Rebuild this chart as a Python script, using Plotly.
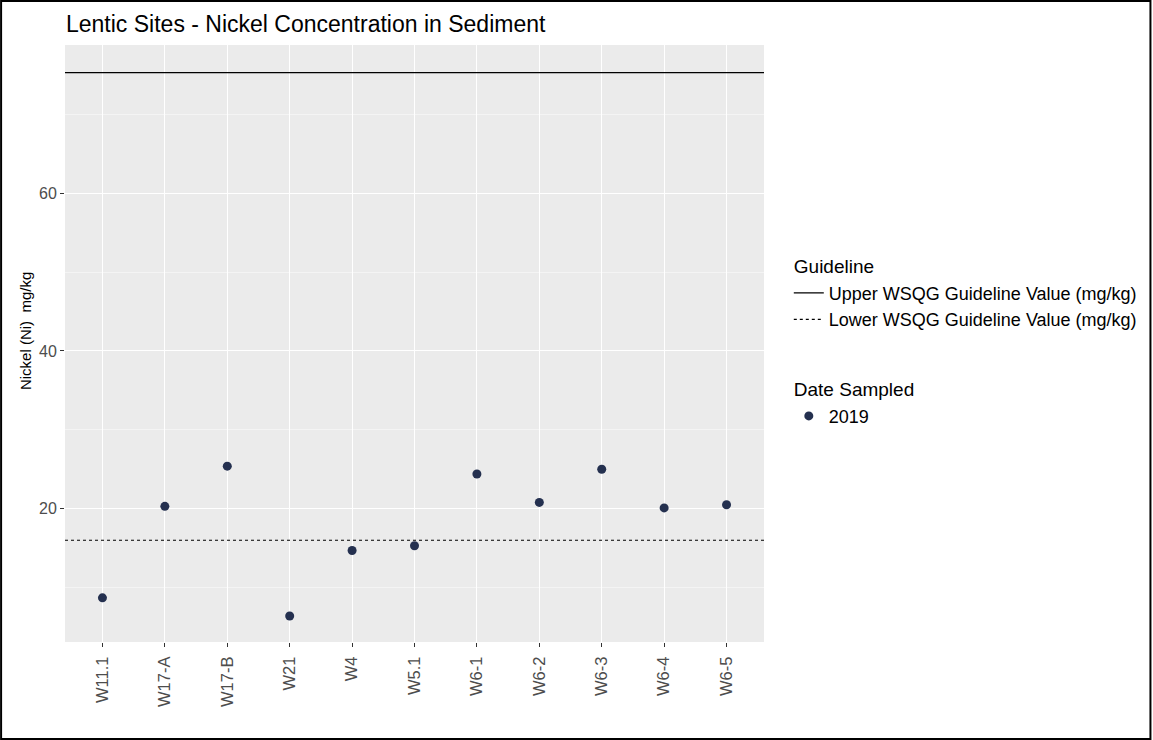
import plotly.graph_objects as go

# Datos
sitios = ["W11.1", "W17-A", "W17-B", "W21", "W4", "W5.1",
          "W6-1", "W6-2", "W6-3", "W6-4", "W6-5"]
niquel_2019 = [8.7, 20.3, 25.4, 6.4, 14.7, 15.3, 24.4, 20.8, 25.0, 20.1, 20.5]
guia_superior = 75.3
guia_inferior = 16
ticks_y = [20, 40, 60]

fuente = "Liberation Sans, Arial, sans-serif"
gris_texto = "#4D4D4D"

fig = go.Figure()

# Entradas de leyenda para las líneas guía
fig.add_trace(go.Scatter(
    x=[None], y=[None], mode="lines", name="Upper WSQG Guideline Value (mg/kg)",
    line=dict(color="black", width=1.2),
    legend="legend", legendgrouptitle_text="Guideline", legendgroup="guia",
    hoverinfo="skip",
))
fig.add_trace(go.Scatter(
    x=[None], y=[None], mode="lines", name="Lower WSQG Guideline Value (mg/kg)",
    line=dict(color="black", width=1.2, dash="dot"),
    legend="legend", legendgrouptitle_text="Guideline", legendgroup="guia",
    hoverinfo="skip",
))

# Puntos de muestreo
fig.add_trace(go.Scatter(
    x=sitios, y=niquel_2019, mode="markers", name="2019",
    marker=dict(color="#24304F", size=9),
    legend="legend2", legendgrouptitle_text="Date Sampled", legendgroup="fecha",
))

# Líneas horizontales de las guías
fig.add_shape(type="line", xref="x domain", yref="y", x0=0, x1=1,
              y0=guia_superior, y1=guia_superior,
              line=dict(color="black", width=1.2))
fig.add_shape(type="line", xref="x domain", yref="y", x0=0, x1=1,
              y0=guia_inferior, y1=guia_inferior,
              line=dict(color="black", width=1.2, dash="dot"))

# Borde negro de la imagen
fig.add_shape(type="rect", xref="paper", yref="paper",
              x0=-64 / 700, x1=1 + 387 / 700, y0=-97 / 597, y1=1 + 44 / 597,
              line=dict(color="black", width=2), layer="above")

# Título del eje Y como anotación
fig.add_annotation(text="Nickel (Ni)  mg/kg", textangle=-90,
                   xref="paper", yref="paper", x=-40 / 700, y=1 - 286 / 597,
                   xanchor="center", yanchor="middle", showarrow=False,
                   font=dict(size=15, color="black"))

estilo_leyenda = dict(
    xanchor="left", yanchor="top",
    font=dict(size=18, color="black"),
    grouptitlefont=dict(size=19, color="black"),
    bgcolor="rgba(0,0,0,0)",
)

fig.update_layout(
    width=1153, height=740,
    margin=dict(l=65, r=388, t=45, b=98),
    paper_bgcolor="white",
    plot_bgcolor="#EBEBEB",
    font=dict(family=fuente, size=15, color="black"),
    title=dict(text="Lentic Sites - Nickel Concentration in Sediment",
               x=66 / 1153, xanchor="left", y=1 - 24 / 740, yanchor="middle",
               font=dict(size=23, color="black")),
    showlegend=True,
    legend=dict(x=1.034, y=1 - 202 / 597, **estilo_leyenda),
    legend2=dict(x=1.034, y=1 - 325 / 597, **estilo_leyenda),
    xaxis=dict(
        type="category", categoryorder="array", categoryarray=sitios,
        range=[-0.6, len(sitios) - 0.4],
        showgrid=True, gridcolor="white", gridwidth=1,
        ticks="outside", ticklen=4, tickcolor="#333333", tickwidth=1,
        tickangle=-90, tickfont=dict(size=16.5, color=gris_texto),
        ticklabelstandoff=3,
        zeroline=False, showline=False,
    ),
    yaxis=dict(
        range=[3.1, 78.8],
        tickvals=ticks_y,
        showgrid=True, gridcolor="white", gridwidth=1.3,
        minor=dict(dtick=10, tick0=0, showgrid=True, gridcolor="#F4F4F4", gridwidth=0.7),
        ticks="outside", ticklen=4, tickcolor="#333333", tickwidth=1,
        tickfont=dict(size=16, color=gris_texto),
        zeroline=False, showline=False,
    ),
)

# Quitar el margen por defecto del cuerpo de la página
fig.write_html("out.html", config={"displayModeBar": False},
               post_script="document.body.style.margin='0';")
